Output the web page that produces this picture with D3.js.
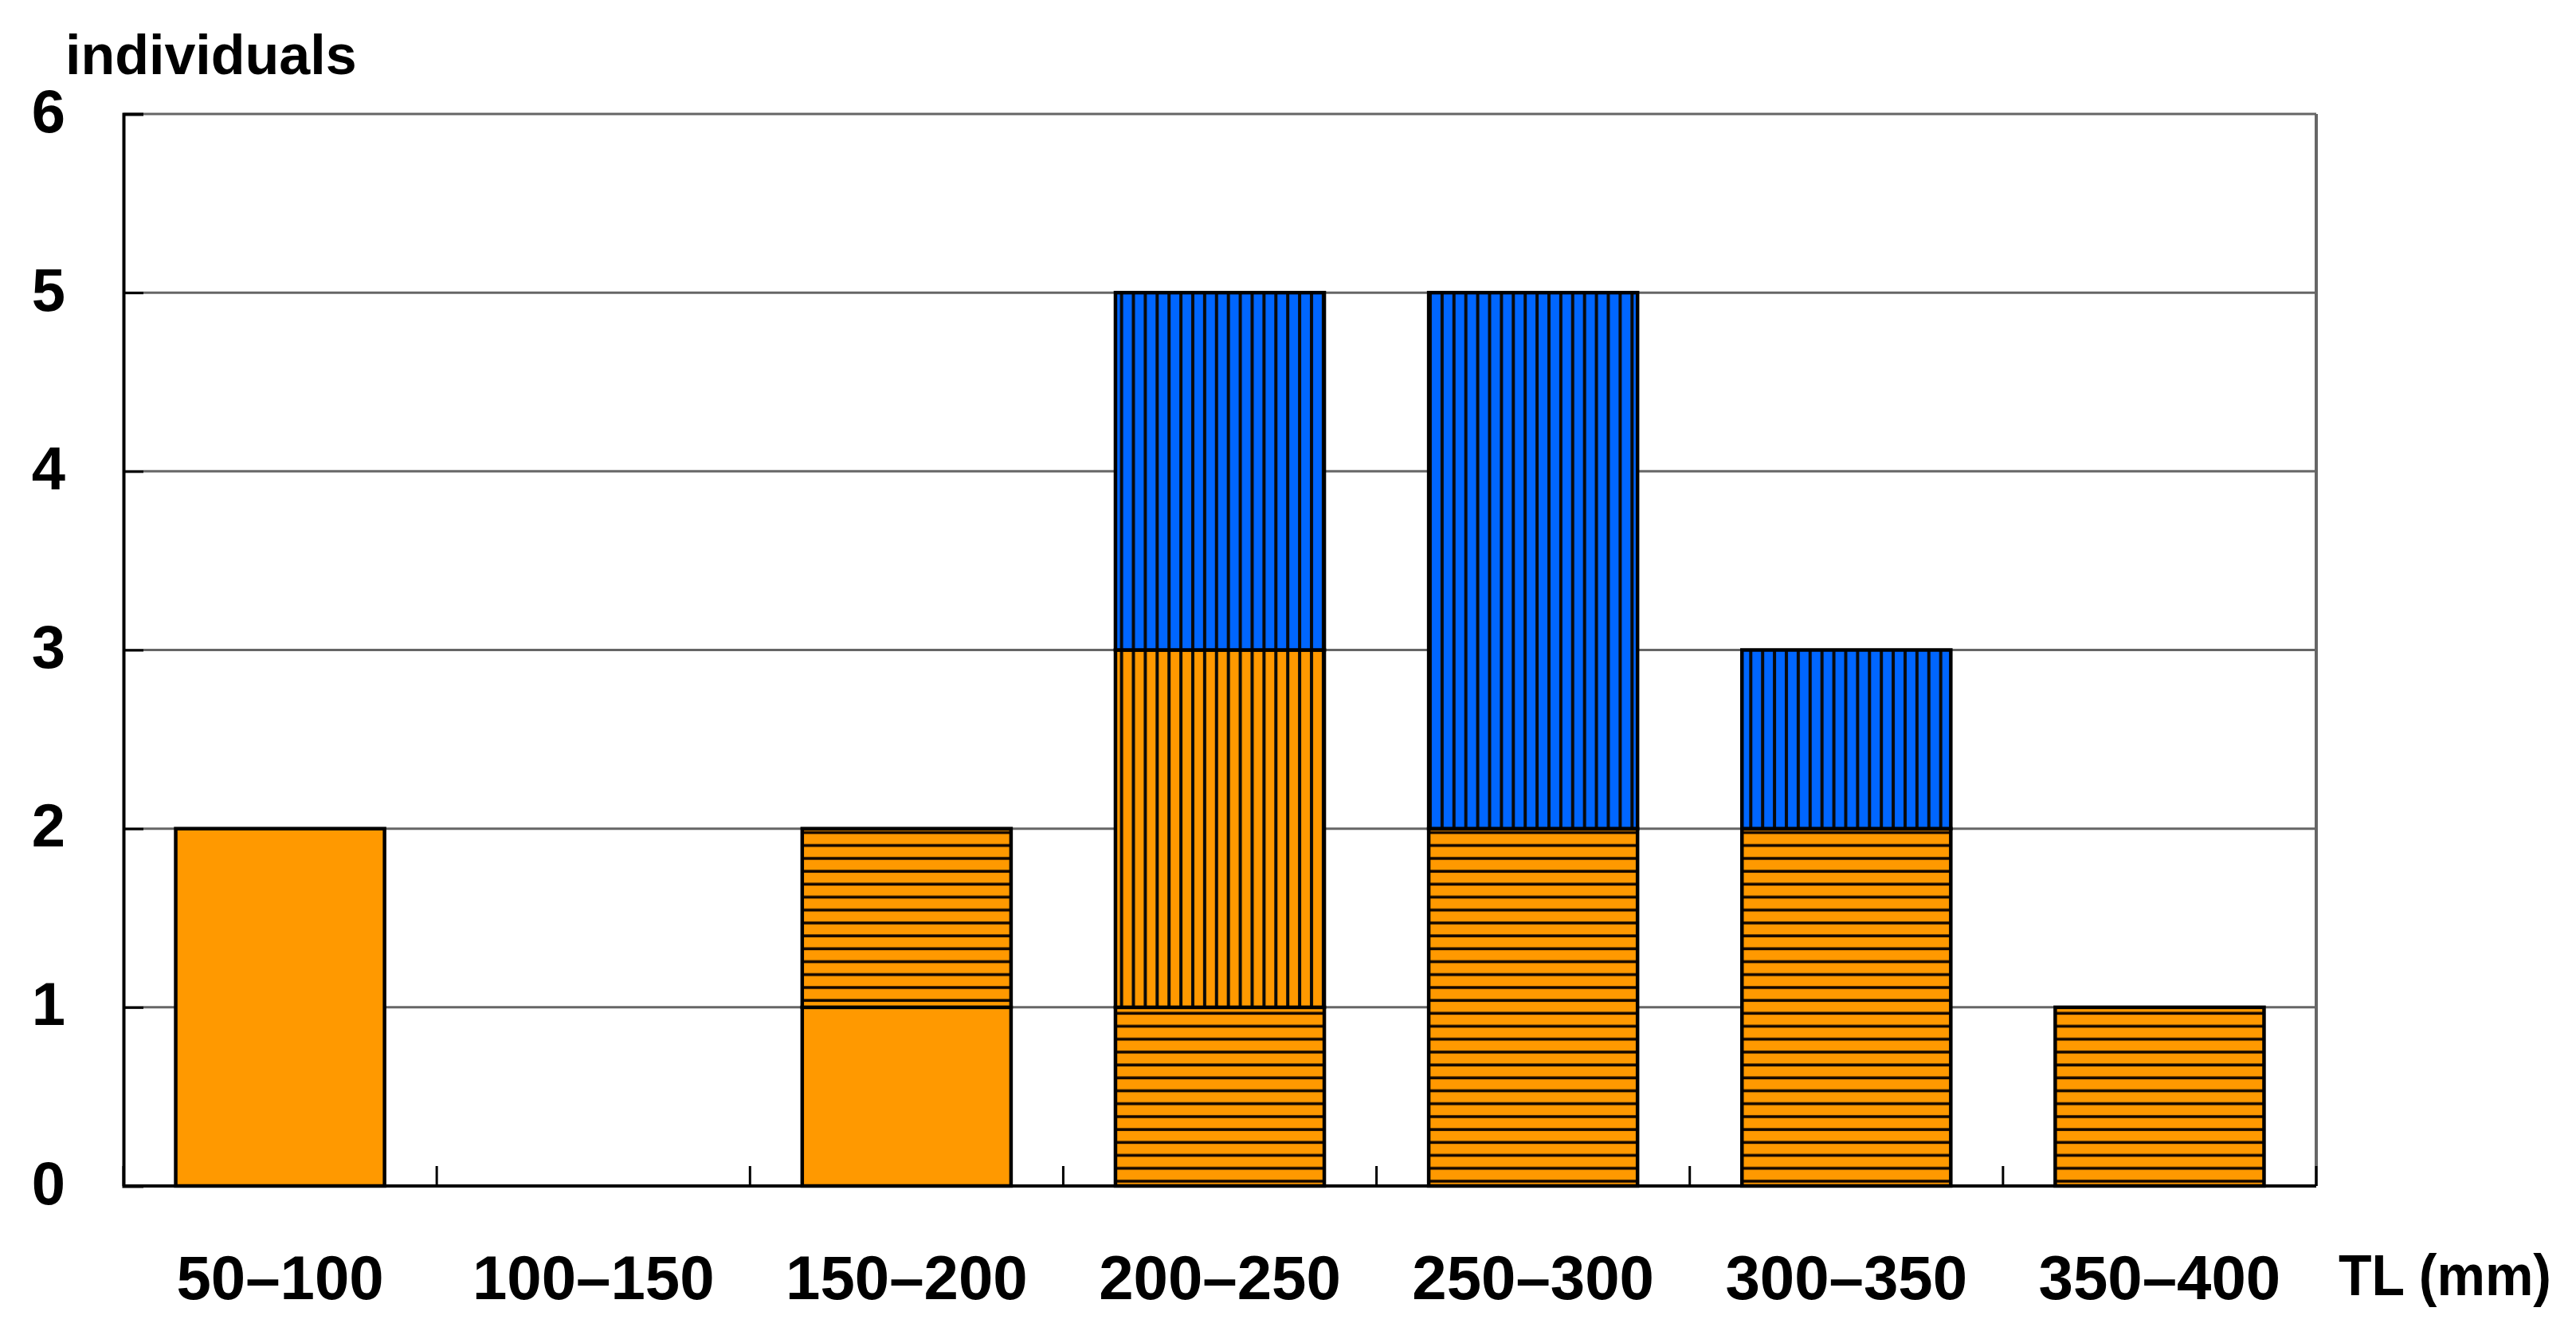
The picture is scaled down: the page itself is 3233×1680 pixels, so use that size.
<!DOCTYPE html>
<html>
<head>
<meta charset="utf-8">
<script src="https://cdn.jsdelivr.net/npm/d3@7"></script>
<style>
  html, body { margin: 0; padding: 0; background: #fff; }
  svg { display: block; }
  text { font-family: "Liberation Sans", Arial, sans-serif; font-weight: bold; fill: #000; }
</style>
</head>
<body>
<svg id="chart" width="3233" height="1680"></svg>
<script>
// ---- Data ----
const categories = ["50–100", "100–150", "150–200", "200–250", "250–300", "300–350", "350–400"];
const seriesNames = ["solidOrange", "hStripeOrange", "vStripeOrange", "vStripeBlue"];
const solidOrange   = [2, 0, 1, 0, 0, 0, 0];
const hStripeOrange = [0, 0, 1, 1, 2, 2, 1];
const vStripeOrange = [0, 0, 0, 2, 0, 0, 0];
const vStripeBlue   = [0, 0, 0, 2, 3, 1, 0];
const yTicks = [0, 1, 2, 3, 4, 5, 6];
const yLabel = "individuals";
const xLabel = "TL (mm)";

(function () {
// ---- Layout ----
const mLeft = 155, mRight = 2907, mTop = 143, mBottom = 1488;
const ORANGE = "#FF9900", BLUE = "#0066FF";

const svg = d3.select("#chart");

// patterns
const defs = svg.append("defs");
const ph = defs.append("pattern").attr("id", "hstripe")
  .attr("patternUnits", "userSpaceOnUse").attr("width", 20).attr("height", 16.2);
ph.append("rect").attr("width", 20).attr("height", 16.2).attr("fill", ORANGE);
ph.append("rect").attr("x", 0).attr("y", 6).attr("width", 20).attr("height", 3.6).attr("fill", "#140800");

function vPattern(id, color) {
  const p = defs.append("pattern").attr("id", id)
    .attr("patternUnits", "userSpaceOnUse").attr("width", 14.9).attr("height", 20);
  p.append("rect").attr("width", 14.9).attr("height", 20).attr("fill", color);
  p.append("rect").attr("x", 5).attr("y", 0).attr("width", 4).attr("height", 20).attr("fill", "#0a0a0a");
}
vPattern("vstripeO", ORANGE);
vPattern("vstripeB", BLUE);

const fills = {
  solidOrange: ORANGE,
  hStripeOrange: "url(#hstripe)",
  vStripeOrange: "url(#vstripeO)",
  vStripeBlue: "url(#vstripeB)"
};

const x = d3.scaleBand().domain(categories).range([mLeft, mRight])
  .paddingInner(1 / 3).paddingOuter(1 / 6);
const xCell = d3.scaleBand().domain(categories).range([mLeft, mRight]).padding(0);
const y = d3.scaleLinear().domain([0, 6]).range([mBottom, mTop]);

// gridlines
svg.append("g").selectAll("line").data(yTicks.filter(d => d > 0)).join("line")
  .attr("x1", mLeft).attr("x2", mRight)
  .attr("y1", d => y(d)).attr("y2", d => y(d))
  .attr("stroke", "#666").attr("stroke-width", 3);

// right border
svg.append("line").attr("x1", mRight).attr("x2", mRight).attr("y1", mTop).attr("y2", mBottom)
  .attr("stroke", "#666").attr("stroke-width", 4);

// stacked bars
const rows = categories.map((c, i) => ({
  cat: c,
  solidOrange: solidOrange[i],
  hStripeOrange: hStripeOrange[i],
  vStripeOrange: vStripeOrange[i],
  vStripeBlue: vStripeBlue[i]
}));
const stacked = d3.stack().keys(seriesNames)(rows);

const gBars = svg.append("g");
stacked.forEach(layer => {
  gBars.selectAll(null).data(layer.filter(d => d[1] - d[0] > 0)).join("rect")
    .attr("x", d => x(d.data.cat))
    .attr("width", x.bandwidth())
    .attr("y", d => y(d[1]))
    .attr("height", d => y(d[0]) - y(d[1]))
    .attr("fill", fills[layer.key])
    .attr("stroke", "#000")
    .attr("stroke-width", 4.5);
});

// y axis (left) with inward ticks
const yAxis = d3.axisRight(y).tickValues(yTicks).tickSize(25).tickFormat("");
const gy = svg.append("g").attr("transform", `translate(${mLeft},0)`).call(yAxis);
gy.select(".domain").attr("stroke", "#000").attr("stroke-width", 4);
gy.selectAll(".tick line").attr("stroke", "#000").attr("stroke-width", 3);

// y tick labels
svg.append("g").selectAll("text").data(yTicks).join("text")
  .attr("x", 61).attr("y", d => y(d) - 4)
  .attr("text-anchor", "middle").attr("dominant-baseline", "central")
  .attr("font-size", 76).text(d => d);

// x axis baseline with upward ticks at category boundaries
const boundaries = categories.map(c => xCell(c)).concat([mRight]);
svg.append("line").attr("x1", mLeft).attr("x2", mRight).attr("y1", mBottom).attr("y2", mBottom)
  .attr("stroke", "#000").attr("stroke-width", 4);
svg.append("g").selectAll("line").data(boundaries).join("line")
  .attr("x1", d => d).attr("x2", d => d)
  .attr("y1", mBottom).attr("y2", mBottom - 25)
  .attr("stroke", "#000").attr("stroke-width", 3);

// x tick labels
svg.append("g").selectAll("text").data(categories).join("text")
  .attr("x", d => xCell(d) + xCell.bandwidth() / 2).attr("y", 1630)
  .attr("text-anchor", "middle").attr("font-size", 78).text(d => d);

// axis titles
svg.append("text").attr("x", 82).attr("y", 93).attr("font-size", 70).text(yLabel);
svg.append("text").attr("x", 2935).attr("y", 1625).attr("font-size", 72)
  .attr("textLength", 267).attr("lengthAdjust", "spacingAndGlyphs").text(xLabel);
})();
</script>
</body>
</html>
